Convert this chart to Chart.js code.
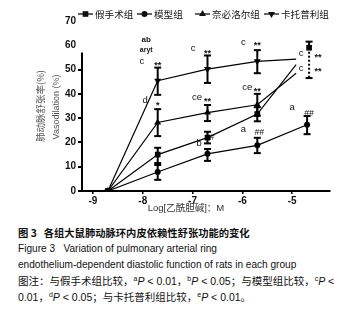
<!DOCTYPE html>
<html>
<head>
<meta charset="utf-8">
<script src="https://cdn.jsdelivr.net/npm/chart.js@4.4.1/dist/chart.umd.min.js"></script>
<style>
  body { margin: 0; background: #fff; width: 353px; height: 317px; overflow: hidden; }
  #wrap { position: relative; width: 353px; height: 220px; }
  #caption { position: absolute; left: 18px; top: 225px; font-family: "Liberation Sans", Arial, "Noto Sans CJK SC", sans-serif;
             font-size: 10.5px; line-height: 16px; color: #111; white-space: nowrap; }
  #caption .en { font-size: 10.1px; }
  #caption .zh { font-family: "Liberation Sans", "Noto Sans CJK SC", sans-serif; }
  #caption b { font-family: "Noto Sans CJK SC", sans-serif; font-size: 10.3px; }
  #caption sup { font-size: 7px; vertical-align: 4px; line-height: 0; }
</style>
</head>
<body>
<div id="wrap"><canvas id="chart" width="353" height="220"></canvas></div>
<div id="caption">
  <div><b>图 3&nbsp;&nbsp;&nbsp;各组大鼠肺动脉环内皮依赖性舒张功能的变化</b></div>
  <div class="en">Figure 3&nbsp;&nbsp;&nbsp;Variation of pulmonary arterial ring</div>
  <div class="en">endothelium-dependent diastolic function of rats in each group</div>
  <div class="zh">图注：与假手术组比较，<sup>a</sup><i>P</i> &lt; 0.01，<sup>b</sup><i>P</i> &lt; 0.05；与模型组比较，<sup>c</sup><i>P</i> &lt;</div>
  <div class="zh">0.01，<sup>d</sup><i>P</i> &lt; 0.05；与卡托普利组比较，<sup>e</sup><i>P</i> &lt; 0.01。</div>
</div>
<script>
// groups and doses (log molar acetylcholine)
const groupNames = ['假手术组', '模型组', '奈必洛尔组', '卡托普利组'];
const doses = [-8.7, -7.7, -6.7, -5.7, -4.7];
const xTicks = [-9, -8, -7, -6, -5];
const yTicks = [0, 10, 20, 30, 40, 50, 60, 70];

// the last segment of three curves stops short of the last dose in the original
const lineEndX = -4.92;

const shamMean = [0, 15, 22, 31.7, 52];
const shamHi = [null, 17.8, 24.4, 34.5, null];
const shamLo = [null, 11.5, 19.6, 28.7, null];

const modelMean = [0, 7.8, 15.3, 18.8, 27.3];
const modelHi = [null, 10.7, 17.3, 21.9, 30.9];
const modelLo = [null, 4.6, 12.4, 15.6, 23.4];

const nebiMean = [0, 28.2, 32.3, 35.5, 48.5];
const nebiHi = [null, 33.7, 35.4, 40, null];
const nebiLo = [null, 22.6, 28.8, 31, null];

const captoMean = [0, 45.4, 50.2, 53.4, 54.3];
const captoHi = [null, 50.8, 55.8, 58, null];
const captoLo = [null, 39.6, 44.5, 48.5, null];

// stray last-dose point of the sham group, and its (dashed) error bar
const shamLastX = -4.66;
const shamLastMean = 59;
const shamLastHi = 61.5;
const shamLastLo = 46.5;

const series = [
  { mean: shamMean, hi: shamHi, lo: shamLo, style: 'rect', rot: 0, short: true },
  { mean: modelMean, hi: modelHi, lo: modelLo, style: 'circle', rot: 0, short: false },
  { mean: nebiMean, hi: nebiHi, lo: nebiLo, style: 'triangle', rot: 0, short: true },
  { mean: captoMean, hi: captoHi, lo: captoLo, style: 'triangle', rot: 180, short: true },
];

const datasets = series.map((s, k) => ({
  label: groupNames[k],
  data: s.mean.map((v, i) => ({ x: (s.short && i === 4) ? lineEndX : doses[i], y: v })),
  borderColor: '#000',
  backgroundColor: '#000',
  borderWidth: 1.2,
  pointStyle: s.style,
  rotation: s.rot,
  pointRadius: s.mean.map((v, i) => (s.short && i === 4) ? 0 : (s.style === 'circle' ? 3 : 4)),
  pointBorderWidth: 0,
  tension: 0,
}));
datasets.push({
  label: 'sham-last',
  data: [{ x: shamLastX, y: shamLastMean }],
  showLine: false,
  pointStyle: 'rect',
  pointRadius: 4,
  pointBorderWidth: 0,
  backgroundColor: '#000',
  borderColor: '#000',
});

// significance letters, placed in data coordinates
const star = 'bold 9px "Liberation Sans"';
const hash = 'italic 8.5px "Liberation Sans"';
const marks = [
  ['ab', -7.93, 62.3, 'bold 8px "Liberation Sans"'],
  ['aryt', -7.93, 58.0, 'bold 7px "Liberation Sans"'],
  ['c', -8.02, 53.5], ['**', -7.7, 51.8, star],
  ['d', -7.95, 37.4], ['*', -7.7, 35.2, star],
  ['c', -6.99, 58.8], ['**', -6.7, 56.8, star],
  ['ce', -6.91, 38.7], ['**', -6.7, 37.0, star],
  ['b', -6.87, 19.7], ['#', -6.61, 21.8, hash],
  ['c', -5.98, 61.3], ['**', -5.7, 59.7, star],
  ['ce', -5.9, 42.8], ['**', -5.7, 40.9, star],
  ['a', -5.98, 25.5], ['##', -5.66, 23.9, hash],
  ['a', -5.0, 34.5], ['##', -4.66, 32.0, hash],
  ['c', -4.82, 56.8], ['c', -4.82, 50.6],
  ['**', -4.48, 55.1, star], ['**', -4.48, 49.4, star],
];

function drawMarker(ctx, style, rot, x, y) {
  Chart.helpers.drawPoint(ctx, { pointStyle: style, rotation: rot, radius: style === 'circle' ? 3 : 4, borderWidth: 0 }, x, y);
}

const overlay = {
  id: 'overlay',
  afterDatasetsDraw(chart) {
    const { ctx, scales: { x, y } } = chart;
    ctx.save();
    ctx.strokeStyle = '#000';
    ctx.fillStyle = '#000';

    // partial y axis line
    ctx.lineWidth = 2;
    ctx.beginPath();
    ctx.moveTo(x.left, y.getPixelForValue(0));
    ctx.lineTo(x.left, y.getPixelForValue(57));
    ctx.stroke();

    // error bars
    const bar = (px, top, bot, dashed) => {
      ctx.setLineDash(dashed ? [2, 2] : []);
      ctx.beginPath();
      ctx.moveTo(px, top); ctx.lineTo(px, bot);
      ctx.stroke();
      ctx.setLineDash([]);
    };
    const cap = (px, py) => {
      ctx.beginPath(); ctx.moveTo(px - 3.5, py); ctx.lineTo(px + 3.5, py); ctx.stroke();
    };
    ctx.lineWidth = 2;
    series.forEach(s => {
      s.hi.forEach((h, i) => {
        if (h == null) return;
        const px = x.getPixelForValue(doses[i]);
        const top = y.getPixelForValue(h), bot = y.getPixelForValue(s.lo[i]);
        bar(px, top, bot, false);
        cap(px, top); cap(px, bot);
      });
    });
    const lx = x.getPixelForValue(shamLastX);
    bar(lx, y.getPixelForValue(shamLastHi), y.getPixelForValue(shamLastMean), false);
    bar(lx, y.getPixelForValue(shamLastMean), y.getPixelForValue(shamLastLo), true);
    cap(lx, y.getPixelForValue(shamLastHi));
    cap(lx, y.getPixelForValue(shamLastLo));

    // letters
    ctx.textAlign = 'center';
    ctx.textBaseline = 'middle';
    marks.forEach(m => {
      ctx.font = m[3] || '9.5px "Liberation Sans"';
      ctx.fillStyle = '#111';
      ctx.fillText(m[0], x.getPixelForValue(m[1]), y.getPixelForValue(m[2]));
    });

    // legend
    const legendX = [78, 137, 195, 264];
    ctx.font = '9.6px "Noto Sans CJK SC"';
    ctx.textAlign = 'left';
    ctx.lineWidth = 1.2;
    series.forEach((s, k) => {
      const x0 = legendX[k], ly = 14;
      ctx.strokeStyle = '#000';
      ctx.beginPath(); ctx.moveTo(x0, ly); ctx.lineTo(x0 + 15, ly); ctx.stroke();
      drawMarker(ctx, s.style, s.rot, x0 + 7.5, ly);
      ctx.fillStyle = '#111';
      ctx.fillText(groupNames[k], x0 + 17, ly + 0.5);
    });

    // axis titles
    ctx.fillStyle = '#555';
    ctx.textAlign = 'center';
    ctx.save();
    ctx.translate(40, 106);
    ctx.rotate(-Math.PI / 2);
    ctx.font = '9.5px "Noto Sans CJK SC"';
    ctx.fillText('肺动脉舒张率(%)', 0, 0);
    ctx.restore();
    ctx.save();
    ctx.translate(57, 107);
    ctx.rotate(-Math.PI / 2);
    ctx.font = '9px "Liberation Sans"';
    ctx.fillText('Vasodilation (%)', 0, 0);
    ctx.restore();
    ctx.fillStyle = '#333';
    ctx.font = '9.5px "Liberation Sans", "Noto Sans CJK SC"';
    ctx.fillText('Log[乙酰胆碱]：M', 186, 208);
    ctx.restore();
  }
};

new Chart(document.getElementById('chart').getContext('2d'), {
  type: 'line',
  data: { datasets: datasets },
  options: {
    responsive: false,
    animation: false,
    layout: { padding: { top: 21, right: 23, left: 0, bottom: 0 } },
    plugins: { legend: { display: false }, tooltip: { enabled: false } },
    scales: {
      x: {
        type: 'linear',
        min: -9.22,
        max: -4.24,
        afterBuildTicks: (scale) => { scale.ticks = xTicks.map(v => ({ value: v })); },
        afterFit: (scale) => { scale.height = 29; },
        ticks: { color: '#111', font: { family: 'Liberation Sans', size: 10, weight: 'bold' }, padding: 1 },
        grid: { drawOnChartArea: false, drawTicks: true, tickLength: 3, color: '#000', lineWidth: 1.5 },
        border: { display: true, color: '#000', width: 2 },
      },
      y: {
        min: 0,
        max: 70,
        afterBuildTicks: (scale) => { scale.ticks = yTicks.map(v => ({ value: v })); },
        afterFit: (scale) => { scale.width = 82; },
        ticks: { color: '#111', font: { family: 'Liberation Sans', size: 10, weight: 'bold' }, padding: 2 },
        grid: {
          drawOnChartArea: false, drawTicks: true, tickLength: 4, lineWidth: 2,
          color: (c) => (c.tick && c.tick.value > 55) ? 'rgba(0,0,0,0)' : '#000',
        },
        border: { display: false },
      },
    },
  },
  plugins: [overlay],
});
</script>
</body>
</html>
